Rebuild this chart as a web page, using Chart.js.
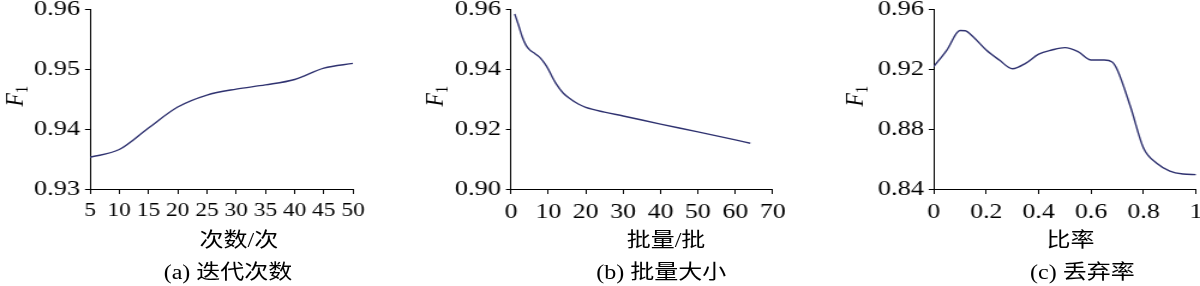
<!DOCTYPE html>
<html><head><meta charset="utf-8">
<script src="https://cdn.jsdelivr.net/npm/chart.js@4.4.0/dist/chart.umd.min.js"></script>
<style>
html,body{margin:0;padding:0;background:#fff;overflow:hidden;width:1200px;height:286px}
#wrap{position:absolute;left:0;top:0;width:1000px;height:286px;transform:scaleX(1.2);transform-origin:0 0}
canvas{position:absolute;top:0}
.lbl{position:absolute;font-family:"Liberation Serif","Noto Sans CJK SC",serif;font-size:20px;line-height:24px;height:24px;white-space:nowrap;color:#000;transform:translateX(-50%)}
</style></head><body>
<div id="wrap">
<canvas id="ca" width="340" height="286" style="left:0px"></canvas>
<canvas id="cb" width="340" height="286" style="left:350px"></canvas>
<canvas id="cc" width="340" height="286" style="left:700px"></canvas>
<div class="lbl" id="ta" style="left:199px;top:228px"></div>
<div class="lbl" id="pa" style="left:190px;top:260px"></div>
<div class="lbl" id="tb" style="left:555px;top:228px"></div>
<div class="lbl" id="pb" style="left:551px;top:260px"></div>
<div class="lbl" id="tc" style="left:892px;top:228px"></div>
<div class="lbl" id="pc" style="left:902px;top:260px"></div>
</div>
<script>
// ---- data ----
const xA = [5, 10, 15, 20, 25, 30, 35, 40, 45, 50];
const yA = [0.9353, 0.9366, 0.9402, 0.9437, 0.9457, 0.9467, 0.9474, 0.9483, 0.9502, 0.9510];
const xTicksA = [5, 10, 15, 20, 25, 30, 35, 40, 45, 50];
const xTickLabelsA = ['5', '10', '15', '20', '25', '30', '35', '40', '45', '50'];
const yTicksA = [0.93, 0.94, 0.95, 0.96];
const yTickLabelsA = ['0.93', '0.94', '0.95', '0.96'];

const xB = [1, 2, 3, 4, 5, 6, 7, 8, 9, 10, 11, 12, 14, 16, 18, 20, 25, 30, 40, 50, 60, 64];
const yB = [0.9585, 0.9548, 0.9509, 0.9481, 0.9465, 0.9456, 0.9447, 0.9436, 0.9420, 0.9400, 0.9375, 0.9353, 0.9320, 0.9300, 0.9284, 0.9273, 0.9257, 0.9244, 0.9217, 0.9191, 0.9164, 0.9153];
const xTicksB = [0, 10, 20, 30, 40, 50, 60, 70];
const xTickLabelsB = ['0', '10', '20', '30', '40', '50', '60', '70'];
const yTicksB = [0.90, 0.92, 0.94, 0.96];
const yTickLabelsB = ['0.90', '0.92', '0.94', '0.96'];

const xC = [0, 0.05, 0.1, 0.12, 0.15, 0.2, 0.25, 0.3, 0.35, 0.4, 0.45, 0.5, 0.55, 0.6, 0.65, 0.68, 0.7, 0.75, 0.8, 0.85, 0.9, 0.95, 1.0];
const yC = [0.9218, 0.9329, 0.9460, 0.9458, 0.9418, 0.9329, 0.9262, 0.9204, 0.9240, 0.9302, 0.9329, 0.9345, 0.9318, 0.9262, 0.9262, 0.9249, 0.9196, 0.8950, 0.8672, 0.8572, 0.8520, 0.8500, 0.8496];
const xTicksC = [0, 0.2, 0.4, 0.6, 0.8, 1];
const xTickLabelsC = ['0', '0.2', '0.4', '0.6', '0.8', '1'];
const yTicksC = [0.84, 0.88, 0.92, 0.96];
const yTickLabelsC = ['0.84', '0.88', '0.92', '0.96'];

const yTitleMain = 'F';
const yTitleSub = '1';
const xTitles = ['次数/次', '批量/批', '比率'];
const captions = ['(a) 迭代次数', '(b) 批量大小', '(c) 丢弃率'];

// ---- style ----
const LINE = '#2f3270';
const SERIF = '"Liberation Serif", "Times New Roman", serif';

// y-axis title F with subscript 1 (italic F, upright subscript), rotated
const yTitlePlugin = {
  id: 'yTitleF1',
  afterDraw(chart) {
    const ctx = chart.ctx;
    const s = chart.scales.y;
    const cx = s.left + 11;
    const cy = (chart.chartArea.top + chart.chartArea.bottom) / 2 - 3;
    ctx.save();
    ctx.translate(cx, cy);
    ctx.rotate(-Math.PI / 2);
    ctx.fillStyle = '#000';
    ctx.textBaseline = 'alphabetic';
    ctx.textAlign = 'left';
    const fMain = 'italic 22px ' + SERIF;
    const fSub = '14px ' + SERIF;
    ctx.font = fMain;
    const wF = ctx.measureText(yTitleMain).width;
    ctx.font = fSub;
    const w1 = ctx.measureText(yTitleSub).width;
    const x0 = -(wF + w1) / 2;
    ctx.font = fMain;
    ctx.fillText(yTitleMain, x0, 7.5);
    ctx.font = fSub;
    ctx.fillText(yTitleSub, x0 + wF, 11.5);
    ctx.restore();
  }
};

function makeChart(id, xs, ys, xTicks, xLabels, yTicks, yLabels, yW, padR, xFontSize) {
  new Chart(document.getElementById(id), {
    type: 'line',
    data: {datasets: [{
      data: xs.map((x, i) => ({x: x, y: ys[i]})),
      borderColor: LINE, borderWidth: 1.4, pointRadius: 0,
      cubicInterpolationMode: 'monotone', fill: false
    }]},
    plugins: [yTitlePlugin],
    options: {
      responsive: false, animation: false, devicePixelRatio: 1,
      layout: {padding: {left: 0, top: 9.5, right: padR, bottom: 0}},
      plugins: {legend: {display: false}, tooltip: {enabled: false}, title: {display: false}},
      scales: {
        x: {
          type: 'linear', min: xTicks[0], max: xTicks[xTicks.length - 1],
          afterBuildTicks: s => { s.ticks = xTicks.map(v => ({value: v})); },
          afterFit: s => { s.height = 97; s.paddingLeft = 0; s.paddingRight = 0; },
          ticks: {autoSkip: false, maxRotation: 0, minRotation: 0, padding: 5, color: '#000',
                  font: {family: SERIF, size: xFontSize},
                  callback: (v, i) => xLabels[i]},
          grid: {drawOnChartArea: false, drawTicks: true, tickLength: 5, color: '#000', lineWidth: 1},
          border: {display: true, color: '#000', width: 1}
        },
        y: {
          type: 'linear', min: yTicks[0], max: yTicks[yTicks.length - 1],
          afterBuildTicks: s => { s.ticks = yTicks.map(v => ({value: v})); },
          afterFit: s => { s.width = yW; s.paddingTop = 0; s.paddingBottom = 0; },
          ticks: {autoSkip: false, padding: 4, color: '#000', font: {family: SERIF, size: 22},
                  callback: (v, i) => yLabels[i]},
          grid: {drawOnChartArea: false, drawTicks: true, tickLength: 4.2, color: '#000', lineWidth: 1},
          border: {display: true, color: '#000', width: 1},
          title: {display: false}
        }
      }
    }
  });
}

makeChart('ca', xA, yA, xTicksA, xTickLabelsA, yTicksA, yTickLabelsA, 75, 45.8, 19.5);
makeChart('cb', xB, yB, xTicksB, xTickLabelsB, yTicksB, yTickLabelsB, 75.8, 46.1, 21.5);
makeChart('cc', xC, yC, xTicksC, xTickLabelsC, yTicksC, yTickLabelsC, 78.1, 43.3, 21.5);

['ta', 'tb', 'tc'].forEach((id, i) => { document.getElementById(id).textContent = xTitles[i]; });
['pa', 'pb', 'pc'].forEach((id, i) => { document.getElementById(id).textContent = captions[i]; });
</script>
</body></html>
